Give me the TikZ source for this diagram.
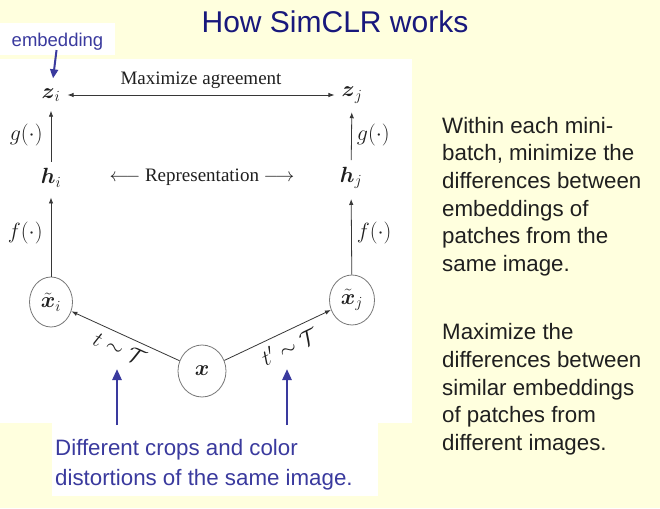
\RequirePackage{fix-cm}
\documentclass[tikz,border=0pt]{standalone}
\usepackage{amsmath}
\usepackage{fontspec}
\setmainfont{Liberation Serif}
\newfontfamily\notefont{Liberation Sans}
\usetikzlibrary{arrows.meta,shapes.geometric}

\definecolor{bgyellow}{RGB}{255,255,222}
\definecolor{titlenavy}{RGB}{24,24,124}
\definecolor{noteblue}{RGB}{58,58,158}
\definecolor{linegray}{RGB}{55,55,55}
\definecolor{ringgray}{RGB}{120,120,120}

\begin{document}
\begin{tikzpicture}[x=1pt, y=-1pt, >={Latex[length=6pt,width=4.5pt]},
  every node/.style={font=\fontsize{19}{22}\selectfont, text=black!88, inner sep=2pt},
  sym/.style={font=\fontsize{22}{25}\selectfont},
  flow/.style={draw=linegray, line width=0.8pt, ->},
  view/.style={draw=ringgray, ellipse, line width=0.8pt, inner sep=0pt, sym},
  note/.style={draw=noteblue, line width=2.6pt, -{Triangle[length=11pt,width=9pt]}},
  notetext/.style={font=\notefont\fontsize{22.3}{27.6}\selectfont, align=left, anchor=north west, inner sep=0pt}]

% Background and white panels
\fill[bgyellow] (0,0) rectangle (660,508);
\fill[white] (0,23) rectangle (115,55);
\fill[white] (0,59) rectangle (412,423);
\fill[white] (52,423) rectangle (378,496);
\useasboundingbox (0,0) rectangle (660,508);

% Title
\node[font=\notefont\fontsize{30}{36}\selectfont, text=titlenavy, anchor=base] (title) at (335,33) {How SimCLR works};

% Embedding note
\node[font=\notefont\fontsize{18.5}{22}\selectfont, text=noteblue, anchor=base] (embed) at (57.5,47) {embedding};

% Diagram nodes
\node[sym] (zi) at (51,95) {$\boldsymbol{z}_i$};
\node[sym] (zj) at (352,95) {$\boldsymbol{z}_j$};
\node[sym] (hi) at (51,178) {$\boldsymbol{h}_i$};
\node[sym] (hj) at (351,178) {$\boldsymbol{h}_j$};
\node[view, minimum width=43pt, minimum height=50pt] (xi) at (51,302) {$\tilde{\boldsymbol{x}}_i$};
\node[view, minimum width=45pt, minimum height=50pt] (xj) at (352,300) {$\tilde{\boldsymbol{x}}_j$};
\node[view, minimum width=48pt, minimum height=52pt] (x) at (202,371) {$\boldsymbol{x}$};
\node (rep) at (202,177) {$\longleftarrow$ Representation $\longrightarrow$};

% Connectors
\draw[flow, <->, shorten <=5pt, shorten >=5pt] (zi) -- node[above=4pt] {Maximize agreement} (zj);
\draw[flow, shorten <=5pt, shorten >=7pt] (hi) -- node[sym, left=6pt] {$g(\cdot)$} (zi);
\draw[flow, shorten <=5pt, shorten >=7pt] (hj) -- node[sym, right=3pt] {$g(\cdot)$} (zj);
\draw[flow, shorten >=8pt] (xi) -- node[sym, left=6pt] {$f(\cdot)$} (hi);
\draw[flow, shorten >=8pt] (xj) -- node[sym, right=3pt] {$f(\cdot)$} (hj);
\draw[flow] (x) -- node[sym, pos=0.5, below=4pt, sloped] (tl) {$t\sim\mathcal{T}$} (xi);
\draw[flow] (x) -- node[sym, pos=0.55, below=4pt, sloped] (tr) {$t'\sim\mathcal{T}$} (xj);

% Blue notes
\draw[note, line width=2pt, -{Triangle[length=9pt,width=8pt]}, shorten <=-3pt, shorten >=8pt] (embed) -- (zi);
\coordinate (footL) at (117,425);
\coordinate (tipL) at (117,369);
\coordinate (footR) at (287,425);
\coordinate (tipR) at (287,369);
\draw[note] (footL) -- (tipL);
\draw[note] (footR) -- (tipR);
\node[notetext, font=\notefont\fontsize{22.3}{30}\selectfont, text=noteblue] (crops) at (55,439) {Different crops and color\\distortions of the same image.};

% Right-hand text
\node[notetext] (within) at (442,117) {Within each mini-\\batch, minimize the\\differences between\\embeddings of\\patches from the\\same image.\\[41pt]Maximize the\\differences between\\similar embeddings\\of patches from\\different images.};

\end{tikzpicture}
\end{document}
